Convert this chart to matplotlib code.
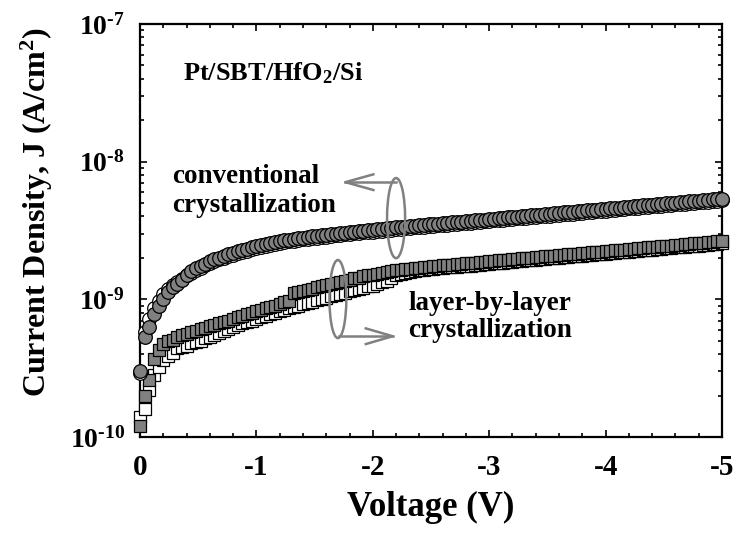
import numpy as np
import matplotlib
matplotlib.use("Agg")
import matplotlib.pyplot as plt
from matplotlib.patches import Ellipse
from matplotlib.ticker import FixedLocator, FixedFormatter, LogLocator, NullFormatter, MultipleLocator

plt.rcParams["font.family"] = ["Liberation Serif", "DejaVu Serif"]
plt.rcParams["font.weight"] = "bold"
plt.rcParams["mathtext.fontset"] = "custom"
plt.rcParams["mathtext.rm"] = "Liberation Serif:bold"
plt.rcParams["mathtext.bf"] = "Liberation Serif:bold"
plt.rcParams["mathtext.it"] = "Liberation Serif:bold"
plt.rcParams["axes.unicode_minus"] = False

# Bias voltage sweep, 0 V to -5 V in 0.04 V steps
voltage = -np.arange(126) * 0.04

# Current density in units of 1e-10 A/cm^2
j_conv_filled = [
    3.0, 5.3, 6.3, 7.8, 8.9, 10.0, 11.3, 12.2, 13.0, 13.8,
    15.0, 16.0, 16.8, 17.5, 18.2, 18.9, 19.5, 20.1, 20.7, 21.3,
    21.8, 22.3, 22.8, 23.3, 23.8, 24.3, 24.8, 25.2, 25.6, 26.0,
    26.4, 26.8, 27.2, 27.5, 27.8, 28.1, 28.4, 28.7, 29.0, 29.3,
    29.5, 29.7, 30.0, 30.3, 30.5, 30.8, 31.0, 31.3, 31.6, 31.8,
    32.0, 32.3, 32.5, 32.8, 33.0, 33.3, 33.5, 33.8, 34.0, 34.3,
    34.5, 34.8, 35.0, 35.2, 35.5, 35.7, 36.0, 36.2, 36.5, 36.7,
    37.0, 37.2, 37.5, 37.8, 38.0, 38.3, 38.6, 38.8, 39.1, 39.4,
    39.6, 39.9, 40.2, 40.5, 40.7, 41.0, 41.3, 41.6, 41.9, 42.2,
    42.5, 42.8, 43.0, 43.3, 43.6, 43.9, 44.3, 44.6, 44.9, 45.2,
    45.5, 45.8, 46.1, 46.4, 46.8, 47.1, 47.4, 47.7, 48.1, 48.4,
    48.7, 49.1, 49.4, 49.8, 50.1, 50.4, 50.8, 51.1, 51.5, 51.9,
    52.2, 52.6, 52.9, 53.3, 53.7, 54.0,
]
j_conv_open = [
    2.9, 5.8, 7.2, 8.6, 9.8, 10.9, 11.9, 12.7, 13.4, 14.1,
    14.9, 15.6, 16.3, 17.0, 17.7, 18.3, 18.9, 19.5, 20.1, 20.7,
    21.1, 21.6, 22.1, 22.6, 23.1, 23.6, 24.1, 24.4, 24.8, 25.2,
    25.6, 26.0, 26.4, 26.7, 27.0, 27.3, 27.5, 27.8, 28.1, 28.4,
    28.6, 28.8, 29.1, 29.4, 29.6, 29.9, 30.1, 30.4, 30.7, 30.8,
    31.0, 31.3, 31.5, 31.8, 32.0, 32.3, 32.5, 32.8, 33.0, 33.3,
    33.5, 33.8, 34.0, 34.2, 34.4, 34.7, 34.9, 35.1, 35.4, 35.6,
    35.9, 36.1, 36.4, 36.6, 36.9, 37.1, 37.4, 37.6, 37.9, 38.2,
    38.4, 38.7, 39.0, 39.2, 39.5, 39.8, 40.1, 40.3, 40.6, 40.9,
    41.2, 41.5, 41.7, 42.0, 42.3, 42.6, 42.9, 43.2, 43.5, 43.8,
    44.1, 44.4, 44.7, 45.0, 45.4, 45.7, 46.0, 46.3, 46.6, 47.0,
    47.3, 47.6, 47.9, 48.3, 48.6, 48.9, 49.3, 49.6, 50.0, 50.3,
    50.6, 51.0, 51.3, 51.7, 52.1, 52.4,
]
j_lbl_filled = [
    1.2, 2.0, 2.6, 3.7, 4.3, 4.7, 5.0, 5.1, 5.3, 5.5,
    5.6, 5.8, 5.9, 6.05, 6.2, 6.4, 6.5, 6.7, 6.9, 7.0,
    7.2, 7.4, 7.6, 7.8, 8.0, 8.2, 8.4, 8.6, 8.8, 9.0,
    9.3, 9.5, 9.7, 11.1, 11.3, 11.5, 11.7, 11.9, 12.2, 12.4,
    12.7, 12.9, 13.2, 13.4, 13.7, 13.9, 14.2, 14.4, 14.7, 14.9,
    15.1, 15.3, 15.5, 15.8, 16.0, 16.2, 16.4, 16.5, 16.7, 16.8,
    17.0, 17.1, 17.3, 17.4, 17.5, 17.7, 17.8, 17.9, 18.0, 18.1,
    18.3, 18.4, 18.5, 18.6, 18.8, 18.9, 19.0, 19.2, 19.3, 19.4,
    19.6, 19.7, 19.8, 20.0, 20.1, 20.2, 20.4, 20.5, 20.6, 20.8,
    20.9, 21.1, 21.2, 21.3, 21.5, 21.6, 21.8, 21.9, 22.1, 22.2,
    22.4, 22.5, 22.7, 22.8, 23.0, 23.2, 23.3, 23.5, 23.6, 23.8,
    24.0, 24.1, 24.3, 24.5, 24.6, 24.8, 25.0, 25.1, 25.3, 25.5,
    25.6, 25.8, 26.0, 26.2, 26.4, 26.5,
]
j_lbl_open = [
    1.4, 1.6, 2.2, 2.8, 3.2, 3.6, 3.9, 4.1, 4.4, 4.5,
    4.6, 4.8, 4.9, 5.0, 5.2, 5.3, 5.5, 5.7, 5.9, 6.1,
    6.3, 6.5, 6.7, 6.9, 7.0, 7.2, 7.4, 7.6, 7.8, 8.0,
    8.2, 8.4, 8.6, 8.8, 9.0, 9.2, 9.4, 9.6, 9.9, 10.1,
    10.3, 10.5, 10.7, 11.0, 11.2, 11.4, 11.7, 11.9, 12.1, 12.4,
    12.6, 12.9, 13.3, 13.7, 14.3, 14.9, 15.3, 15.6, 15.9, 16.1,
    16.3, 16.4, 16.6, 16.7, 16.8, 17.0, 17.1, 17.2, 17.3, 17.4,
    17.5, 17.6, 17.8, 17.9, 18.0, 18.1, 18.3, 18.4, 18.5, 18.6,
    18.8, 18.9, 19.0, 19.2, 19.3, 19.4, 19.5, 19.7, 19.8, 19.9,
    20.1, 20.2, 20.4, 20.5, 20.6, 20.8, 20.9, 21.1, 21.2, 21.3,
    21.5, 21.6, 21.8, 21.9, 22.1, 22.2, 22.4, 22.5, 22.7, 22.8,
    23.0, 23.1, 23.3, 23.5, 23.6, 23.8, 24.0, 24.1, 24.3, 24.5,
    24.6, 24.8, 25.0, 25.1, 25.3, 25.5,
]

x_ticks = [0, -1, -2, -3, -4, -5]
x_tick_labels = ["0", "-1", "-2", "-3", "-4", "-5"]
y_ticks = [1e-10, 1e-9, 1e-8, 1e-7]
y_tick_labels = [r"$\mathbf{10^{\text{-}10}}$", r"$\mathbf{10^{\text{-}9}}$",
                 r"$\mathbf{10^{\text{-}8}}$", r"$\mathbf{10^{\text{-}7}}$"]

scale = 1e-10
gray = "#808080"

fig = plt.figure(figsize=(7.35, 5.34), dpi=100)
ax = fig.add_axes([140 / 735, 97 / 534, 582 / 735, 413 / 534])

common = dict(linestyle="none", markeredgecolor="black", markeredgewidth=0.9,
              clip_on=False)
ax.plot(voltage, np.array(j_lbl_open) * scale, marker="s", markersize=8.4,
        markerfacecolor="white", zorder=3, **common)
ax.plot(voltage, np.array(j_lbl_filled) * scale, marker="s", markersize=8.4,
        markerfacecolor=gray, zorder=4, **common)
ax.plot(voltage, np.array(j_conv_open) * scale, marker="o", markersize=9.8,
        markerfacecolor="white", zorder=5, **common)
ax.plot(voltage, np.array(j_conv_filled) * scale, marker="o", markersize=9.8,
        markerfacecolor=gray, zorder=6, **common)

ax.set_yscale("log")
ax.set_xlim(0, -5)
ax.set_ylim(1e-10, 1e-7)

ax.xaxis.set_major_locator(FixedLocator(x_ticks))
ax.xaxis.set_major_formatter(FixedFormatter(x_tick_labels))
ax.xaxis.set_minor_locator(MultipleLocator(0.2))
ax.yaxis.set_major_locator(FixedLocator(y_ticks))
ax.yaxis.set_major_formatter(FixedFormatter(y_tick_labels))
ax.yaxis.set_minor_locator(LogLocator(base=10, subs=np.arange(2, 10)))
ax.yaxis.set_minor_formatter(NullFormatter())

for s in ax.spines.values():
    s.set_linewidth(1.6)
ax.tick_params(which="both", direction="in", top=True, right=True, width=1.2)
ax.tick_params(which="major", length=5)
ax.tick_params(which="minor", length=3)
ax.tick_params(axis="x", which="major", labelsize=21, pad=12)
ax.tick_params(axis="y", which="major", labelsize=20, pad=11)
for lbl in ax.get_xticklabels():
    lbl.set_fontweight("bold")

ax.set_xlabel("Voltage (V)", fontsize=25, fontweight="bold")
ax.xaxis.set_label_coords(0.5, -0.13)
ax.set_ylabel(r"Current Density, J (A/cm$\mathbf{^2}$)", fontsize=23,
              fontweight="bold")
ax.yaxis.set_label_coords(-0.146, 0.545)

txt = dict(transform=ax.transAxes, fontweight="bold", va="baseline", ha="left")
ax.text(0.074, 0.864, r"Pt/SBT/HfO$\mathbf{_2}$/Si", fontsize=19, **txt)
ax.text(0.055, 0.615, "conventional", fontsize=19.5, **txt)
ax.text(0.055, 0.545, "crystallization", fontsize=19.5, **txt)
ax.text(0.4605, 0.3075, "layer-by-layer", fontsize=19.5, **txt)
ax.text(0.4605, 0.242, "crystallization", fontsize=19.5, **txt)

# Grouping ellipses with open arrows pointing to the labels
ann = dict(color=gray, lw=1.8, transform=ax.transAxes, clip_on=False, zorder=8)
ax.add_patch(Ellipse((0.440, 0.530), 0.031, 0.194, fill=False, **ann))
ax.plot([0.440, 0.353], [0.617, 0.617], **ann)
ax.plot([0.401, 0.353, 0.401], [0.636, 0.617, 0.598], **ann)

ax.add_patch(Ellipse((0.340, 0.334), 0.029, 0.189, fill=False, **ann))
ax.plot([0.342, 0.434], [0.244, 0.244], **ann)
ax.plot([0.388, 0.434, 0.388], [0.263, 0.244, 0.225], **ann)

fig.savefig("out.png", dpi=100)
